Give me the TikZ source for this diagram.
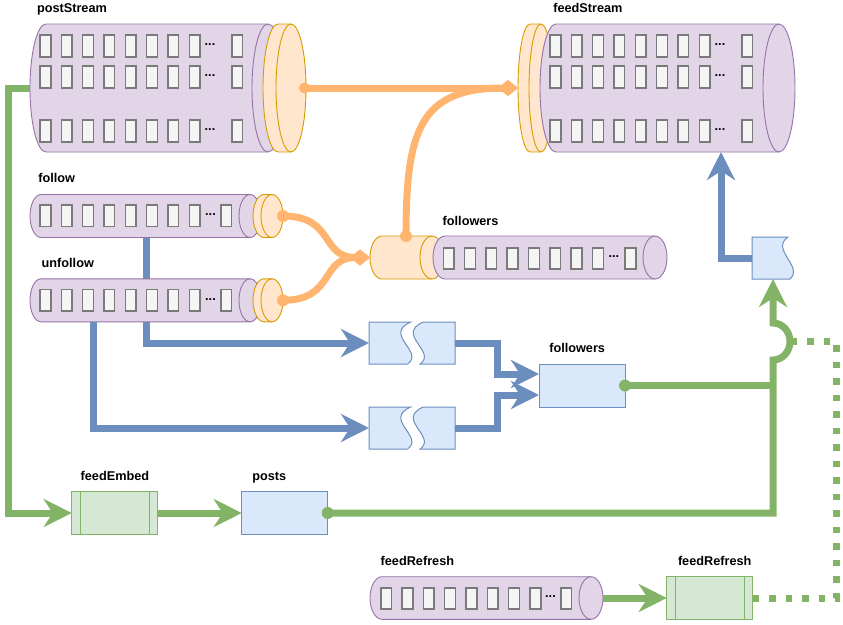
\documentclass[tikz,border=0pt]{standalone}
\usepackage{fontspec}
\setmainfont{Liberation Sans}
\usetikzlibrary{arrows.meta,calc}
\definecolor{pfill}{HTML}{E1D5E7}
\definecolor{pline}{HTML}{9673A6}
\definecolor{ofill}{HTML}{FFE6CC}
\definecolor{oline}{HTML}{D79B00}
\definecolor{oconn}{HTML}{FFB570}
\definecolor{bfill}{HTML}{DAE8FC}
\definecolor{bline}{HTML}{6C8EBF}
\definecolor{gfill}{HTML}{D5E8D4}
\definecolor{gline}{HTML}{82B366}
\definecolor{cfill}{HTML}{F5F5F5}
\definecolor{cline}{HTML}{7A7A7A}
% style, left edge, right ellipse centre, centre y, y radius, x radius
\newcommand{\drawcyl}[6]{%
  \filldraw[#1] ({#2+#6},{#4-#5}) arc[start angle=-90,end angle=-270,x radius=#6,y radius=#5]
    -- (#3,{#4+#5}) arc[start angle=90,end angle=-90,x radius=#6,y radius=#5] -- cycle;
  \draw[#1,fill=none] (#3,{#4-#5}) arc[start angle=-90,end angle=-270,x radius=#6,y radius=#5];
}
% first x, top y, height, last cell x
\newcommand{\cellrow}[4]{%
  \foreach \i in {0,...,7} \draw[cell] ({#1+\i*21.33},#2) rectangle ++(10.7,#3);
  \draw[cell] (#4,#2) rectangle ++(10.7,#3);
}
% left x, top, bottom
\newcommand{\tapeshape}[3]{%
  \filldraw[bshape] (#1,#2) -- ({#1+41.7},#2)
    .. controls ({#1+13.7},{#2+0.3*(#3-#2)}) and ({#1+55.7},{#2+0.7*(#3-#2)}) .. ({#1+38.7},#3)
    -- (#1,#3) -- cycle;
  \filldraw[bshape] ({#1+54.2},#2) -- ({#1+86},#2) -- ({#1+86},#3) -- ({#1+51.2},#3)
    .. controls ({#1+68.2},{#2+0.7*(#3-#2)}) and ({#1+26.2},{#2+0.3*(#3-#2)}) .. ({#1+54.2},#2) -- cycle;
}
\begin{document}
\begin{tikzpicture}[x=1pt,y=1pt,yscale=-1,
  lbl/.style={anchor=base west,inner sep=0,outer sep=0,font=\fontsize{12.7}{15}\selectfont\bfseries},
  dotsn/.style={inner sep=0,outer sep=0,font=\fontsize{12.7}{15}\selectfont\bfseries},
  hold/.style={inner sep=0,outer sep=0,draw=none,fill=none},
  purp/.style={fill=pfill,draw=pline,line width=0.9pt},
  oran/.style={fill=ofill,draw=oline,line width=0.9pt},
  cell/.style={fill=cfill,draw=cline,line width=1.6pt},
  bshape/.style={fill=bfill,draw=bline,line width=1pt},
  bbox/.style={fill=bfill,draw=bline,line width=1pt,inner sep=0,outer sep=0},
  gbox/.style={fill=gfill,draw=gline,line width=1pt,inner sep=0,outer sep=0},
  bigtip/.style={-{Stealth[length=28pt,width=28pt,inset=9pt]}},
  barrow/.style={draw=bline,line width=7pt,bigtip},
  garrow/.style={draw=gline,line width=7pt,bigtip},
  gplain/.style={draw=gline,line width=7pt},
  gdot/.style={draw=gline,line width=7pt,dash pattern=on 6.5pt off 10pt},
  oarrow/.style={draw=oconn,line width=7pt,-{Diamond[length=20pt,width=16pt]}},
]
\useasboundingbox (0,0) rectangle (843,624);

% placeholders for the shapes (named)
\node[hold,minimum width=276pt,minimum height=128pt] (postStream) at (168,88) {};
\node[hold,minimum width=277pt,minimum height=128pt] (feedStream) at (656.5,88) {};
\node[hold,minimum width=253pt,minimum height=43pt] (follow) at (156.5,216) {};
\node[hold,minimum width=253pt,minimum height=43pt] (unfollow) at (156.5,300.3) {};
\node[hold,minimum width=297pt,minimum height=43pt] (followersQ) at (518.5,257.5) {};
\node[hold,minimum width=233pt,minimum height=42.6pt] (feedRefreshQ) at (486.5,598) {};
\node[hold,minimum width=86pt,minimum height=42pt] (tape1) at (412,343) {};
\node[hold,minimum width=86pt,minimum height=42pt] (tape2) at (412,428) {};
\node[hold,minimum width=42pt,minimum height=42pt] (doc) at (773,258) {};

\coordinate (bx1) at (146,0);
\coordinate (bx2) at (93,0);
\coordinate (bx3) at (497,0);
\coordinate (bx4) at (721,0);
\coordinate (dx) at (836.5,0);
\coordinate (fin1) at (539,374);
\coordinate (fin2) at (539,395);
\coordinate (jumpLo) at (773,360);
\coordinate (jumpR) at (790,341.5);
\coordinate (fqtop) at ([xshift=36pt]followersQ.north west);

% blue line from follow (behind unfollow)
\draw[barrow] (bx1 |- follow.south) |- (tape1.west);

% cylinders
\drawcyl{purp}{30}{268}{88}{64}{16}
\drawcyl{oran}{263}{291}{88}{64}{15}
\cellrow{40}{35}{22}{231.7}
\cellrow{40}{66}{22}{231.7}
\cellrow{40}{120}{22}{231.7}
\node[dotsn] (psd1) at (210,45) {...};
\node[dotsn] (psd2) at (210,76) {...};
\node[dotsn] (psd3) at (210,130) {...};

\drawcyl{oran}{518}{541}{88}{64}{12}
\drawcyl{purp}{540}{779}{88}{64}{16}
\cellrow{550}{35}{22}{741.7}
\cellrow{550}{66}{22}{741.7}
\cellrow{550}{120}{22}{741.7}
\node[dotsn] (fsd1) at (720,45) {...};
\node[dotsn] (fsd2) at (720,76) {...};
\node[dotsn] (fsd3) at (720,130) {...};

\drawcyl{purp}{30}{250}{216}{21.5}{11}
\drawcyl{oran}{253}{272}{216}{21.5}{11}
\cellrow{40}{205}{21.3}{220.7}
\node[dotsn] (fod) at (210.5,215) {...};

\drawcyl{purp}{30}{250}{300.3}{21.5}{11}
\drawcyl{oran}{253}{272}{300.3}{21.5}{11}
\cellrow{40}{289.5}{21.3}{220.7}
\node[dotsn] (ufd) at (210.5,299.3) {...};

\drawcyl{oran}{370}{432}{257.5}{21.5}{12}
\drawcyl{purp}{433}{655}{257.5}{21.5}{12}
\cellrow{443.3}{247.7}{21.3}{625}
\node[dotsn] (fqd) at (613.8,256.7) {...};

\drawcyl{purp}{370}{591}{598}{21.3}{12}
\cellrow{380.7}{587.7}{21.3}{560.7}
\node[dotsn] (frd) at (550.5,596.7) {...};

% tapes and document
\tapeshape{369}{322}{364}
\tapeshape{369}{407}{449}
\filldraw[bshape] (752,237) -- (788,237) .. controls (770,249.6) and (804,266.4) .. (790,279) -- (752,279) -- cycle;

% boxes
\node[bbox,minimum width=86pt,minimum height=43pt] (fbox) at (582,385.5) {};
\node[bbox,minimum width=86pt,minimum height=42.3pt] (posts) at (284.7,513) {};
\node[gbox,minimum width=85.6pt,minimum height=42.3pt] (feedEmbed) at (114.5,513) {};
\node[gbox,minimum width=86pt,minimum height=42.6pt] (frbox) at (709.7,598) {};
\draw[gline,line width=1pt] ([xshift=8.3pt]feedEmbed.north west) -- ([xshift=8.3pt]feedEmbed.south west)
  ([xshift=-8.3pt]feedEmbed.north east) -- ([xshift=-8.3pt]feedEmbed.south east);
\draw[gline,line width=1pt] ([xshift=8.3pt]frbox.north west) -- ([xshift=8.3pt]frbox.south west)
  ([xshift=-8.3pt]frbox.north east) -- ([xshift=-8.3pt]frbox.south east);

% blue connectors
\draw[barrow] (bx2 |- unfollow.south) |- (tape2.west);
\draw[barrow] (tape1.east) -- (bx3 |- tape1.east) -- (bx3 |- fin1) -- (fin1);
\draw[barrow] (tape2.east) -- (bx3 |- tape2.east) -- (bx3 |- fin2) -- (fin2);
\draw[barrow] (doc.west) -| (bx4 |- feedStream.south);

% green connectors
\draw[garrow] (postStream.west) -- ++(-22,0) |- (feedEmbed.west);
\draw[garrow] (feedEmbed.east) -- (posts.west);
\draw[gplain] (fbox.east) -- (fbox.east -| doc.south);
\draw[garrow] (posts.east) -- (posts.east -| doc.south) -- (jumpLo)
  arc[start angle=90,end angle=-90,x radius=17,y radius=18.5] -- (doc.south);
\draw[garrow] (feedRefreshQ.east) -- (frbox.west);
\draw[gdot] (frbox.east) -| (dx |- jumpR) -- (jumpR);
\fill[gline] (fbox.east) circle (6);
\fill[gline] (posts.east) circle (6);

% orange connectors
\draw[oarrow] (postStream.east) -- (feedStream.west);
\draw[oarrow] (fqtop) .. controls (406,130) and (420,88) .. (feedStream.west);
\draw[oarrow] (follow.east) .. controls (335,216) and (320,257.5) .. (followersQ.west);
\draw[oarrow] (unfollow.east) .. controls (335,300.3) and (320,257.5) .. (followersQ.west);
\fill[oconn] ([xshift=-1.5pt]postStream.east) circle (5.5);
\fill[oconn] (fqtop) circle (6);
\fill[oconn] (follow.east) circle (6);
\fill[oconn] (unfollow.east) circle (6);

% labels
\node[lbl] (lps) at (37,12.7) {postStream};
\node[lbl] (lfs) at (553.3,12.7) {feedStream};
\node[lbl] (lfo) at (38.3,182.3) {follow};
\node[lbl] (luf) at (41.7,267.3) {unfollow};
\node[lbl] (lfq) at (442.7,225.7) {followers};
\node[lbl] (lfb) at (549.3,352.5) {followers};
\node[lbl] (lfe) at (80.7,480.5) {feedEmbed};
\node[lbl] (lpo) at (252.3,480.5) {posts};
\node[lbl] (lfr) at (380.7,565.7) {feedRefresh};
\node[lbl] (lfr2) at (678,565.7) {feedRefresh};
\end{tikzpicture}
\end{document}
